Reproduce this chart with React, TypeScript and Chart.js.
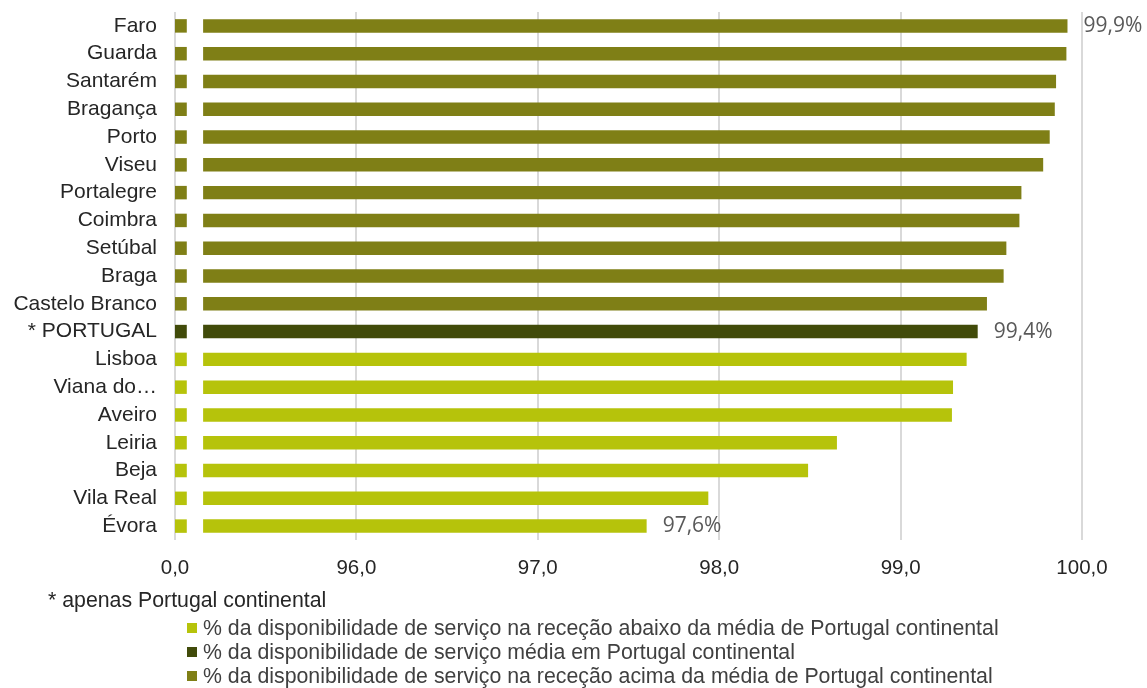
import React, { useEffect, useRef } from 'react';
import { Chart, registerables } from 'chart.js';

Chart.register(...registerables);

// ---------- data ----------
const categories = [
  'Faro', 'Guarda', 'Santarém', 'Bragança', 'Porto', 'Viseu', 'Portalegre', 'Coimbra',
  'Setúbal', 'Braga', 'Castelo Branco', '* PORTUGAL', 'Lisboa', 'Viana do…', 'Aveiro',
  'Leiria', 'Beja', 'Vila Real', 'Évora',
];
const values = [
  99.92, 99.914, 99.857, 99.85, 99.822, 99.786, 99.666, 99.655,
  99.583, 99.568, 99.476, 99.425, 99.364, 99.289, 99.283,
  98.649, 98.49, 97.94, 97.6,
];
const averageCategory = '* PORTUGAL';
const labelledCategories = ['Faro', '* PORTUGAL', 'Évora'];
const tickValues = [95, 96, 97, 98, 99, 100];
const tickLabels = ['0,0', '96,0', '97,0', '98,0', '99,0', '100,0'];
const footnote = '* apenas Portugal continental';
const legendLabels = [
  '% da disponibilidade de serviço na receção abaixo da média de Portugal continental',
  '% da disponibilidade de serviço média em Portugal continental',
  '% da disponibilidade de serviço na receção acima da média de Portugal continental',
];

// ---------- styling / axis break ----------
const COLOR_BELOW = '#B6C30B';
const COLOR_AVG = '#414B0A';
const COLOR_ABOVE = '#7F7F16';
const legendColors = [COLOR_BELOW, COLOR_AVG, COLOR_ABOVE];
const AXIS_MIN = 95;
const AXIS_MAX = 100;
const STUB_END = 95.065;
const BAR_START = 95.155;
const FONT = '"Liberation Sans", Arial, sans-serif';

const avgIndex = categories.indexOf(averageCategory);
const avgValue = values[avgIndex];
const barColors = values.map((v, i) =>
  i === avgIndex ? COLOR_AVG : v > avgValue ? COLOR_ABOVE : COLOR_BELOW
);

const valueLabelPlugin = {
  id: 'valueLabels',
  afterDatasetsDraw(chart: any) {
    const meta = chart.getDatasetMeta(1);
    const ctx = chart.ctx;
    ctx.save();
    ctx.font = '21px "Open Sans", "Noto Sans", sans-serif';
    ctx.fillStyle = '#595959';
    ctx.textBaseline = 'middle';
    ctx.textAlign = 'left';
    categories.forEach((c, i) => {
      if (!labelledCategories.includes(c)) return;
      const el = meta.data[i];
      ctx.fillText(values[i].toFixed(1).replace('.', ',') + '%', el.x + 16, el.y);
    });
    ctx.restore();
  },
};

export default function App() {
  const ref = useRef<HTMLCanvasElement | null>(null);

  useEffect(() => {
    if (!ref.current) return;
    const chart = new Chart(ref.current, {
      type: 'bar',
      data: {
        labels: categories,
        datasets: [
          {
            data: categories.map(() => [AXIS_MIN, STUB_END]) as any,
            backgroundColor: barColors,
            grouped: false,
            categoryPercentage: 1,
            barPercentage: 0.485,
          } as any,
          {
            data: values.map((v) => [BAR_START, v]) as any,
            backgroundColor: barColors,
            grouped: false,
            categoryPercentage: 1,
            barPercentage: 0.485,
          } as any,
        ],
      },
      options: {
        indexAxis: 'y',
        responsive: false,
        animation: false,
        devicePixelRatio: 1,
        layout: { padding: { top: 12, right: 65, bottom: 106, left: 0 } },
        plugins: {
          legend: { display: false },
          tooltip: { enabled: false },
        },
        scales: {
          x: {
            type: 'linear',
            min: AXIS_MIN,
            max: AXIS_MAX,
            afterBuildTicks: (scale: any) => {
              scale.ticks = tickValues.map((v) => ({ value: v }));
            },
            afterFit: (scale: any) => {
              scale.height = 42;
              scale.paddingLeft = 0;
              scale.paddingRight = 0;
            },
            ticks: {
              padding: 16,
              color: '#262626',
              font: { family: FONT, size: 20.5 },
              callback: (v: any) => {
                const i = tickValues.indexOf(Number(v));
                return i >= 0 ? tickLabels[i] : '';
              },
            },
            grid: { color: '#D9D9D9', lineWidth: 2, drawTicks: false },
            border: { display: false },
          },
          y: {
            afterFit: (scale: any) => {
              scale.width = 175;
              scale.paddingTop = 0;
              scale.paddingBottom = 0;
            },
            ticks: {
              padding: 18,
              color: '#262626',
              font: { family: FONT, size: 21 },
              autoSkip: false,
            },
            grid: { display: false, drawTicks: false },
            border: { display: false },
          },
        },
      } as any,
      plugins: [valueLabelPlugin],
    });
    return () => chart.destroy();
  }, []);

  return (
    <div style={{ position: 'absolute', left: 0, top: 0, width: 1147, height: 688, overflow: 'hidden', fontFamily: FONT, background: '#fff' }}>
      <canvas ref={ref} width={1147} height={688} style={{ position: 'absolute', left: 0, top: 0 }} />
      <div style={{ position: 'absolute', left: 48, top: 588, fontSize: 21.3, lineHeight: '24px', color: '#262626', whiteSpace: 'nowrap' }}>
        {footnote}
      </div>
      {legendLabels.map((t, i) => (
        <div
          key={i}
          style={{ position: 'absolute', left: 187, top: 616 + 24 * i, fontSize: 21.3, lineHeight: '24px', color: '#404040', whiteSpace: 'nowrap', display: 'flex', alignItems: 'center' }}
        >
          <span style={{ display: 'inline-block', width: 10, height: 10, background: legendColors[i], marginRight: 6 }} />
          <span>{t}</span>
        </div>
      ))}
    </div>
  );
}
